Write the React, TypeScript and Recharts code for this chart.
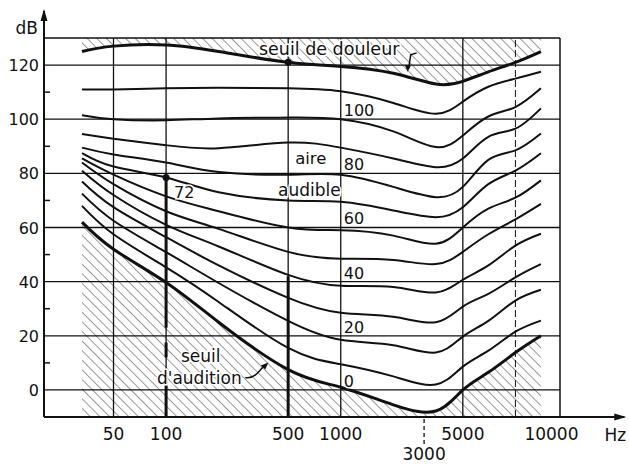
import { Area, ComposedChart, Line, ReferenceDot, ReferenceLine, XAxis, YAxis } from "recharts";

// fréquences (Hz)
const FREQ = [33, 50, 100, 200, 500, 1000, 2000, 3500, 5000, 7000, 10000, 14000];

// courbes d'isosonie (dB), une liste par courbe
const PAIN = [125, 127, 127.4, 125, 121, 119.5, 117, 113, 114, 117.5, 121, 125];
const PHON_110 = [111, 111, 111.4, 111.6, 111.4, 110.3, 106, 102, 106.5, 112, 115, 117.5];
const PHON_100 = [101.5, 100, 99.6, 100.3, 100.6, 100, 95.5, 89.7, 94, 101, 104.5, 111.4];
const PHON_90 = [94.5, 92.8, 90.4, 89.3, 91.4, 89.5, 85.5, 82.3, 85.5, 93.5, 96.5, 104];
const PHON_80 = [89.5, 87, 84, 80.5, 79.5, 79.5, 75, 71.2, 75, 85, 88.5, 94.7];
const PHON_70 = [87.5, 82.5, 78.5, 73, 70, 69.5, 66.3, 63.8, 67.5, 76, 81, 87.4];
const PHON_60 = [85.5, 79.5, 71.5, 66, 60, 59, 57, 54, 60, 67, 71, 77.4];
const PHON_50 = [84, 76, 66, 59.5, 51, 48.5, 48, 46.5, 51, 57.5, 63, 68.7];
const PHON_40 = [81, 72, 61, 53, 42.5, 38.5, 38, 36, 40.7, 46, 53.3, 57.7];
const PHON_30 = [77, 67.5, 56.4, 46, 34, 28.5, 27, 25, 30.8, 35.5, 41.6, 46.5];
const PHON_20 = [72.5, 62.5, 50.9, 39.5, 25.5, 18.5, 16.5, 13.8, 19.7, 25.5, 33, 37];
const PHON_10 = [68, 57.5, 45.3, 32.5, 15.5, 9.5, 5, 2, 8.6, 14.5, 21.5, 25.6];
const THRESHOLD = [62, 52, 39.7, 25, 7.5, 1, -5.5, -7.8, 0, 6.5, 13.8, 20];

const X_TICKS = [50, 100, 500, 1000, 3000, 5000, 10000];
const X_GRID = [50, 100, 500, 1000, 5000];
const Y_TICKS = [0, 10, 20, 30, 40, 50, 60, 70, 80, 90, 100, 110, 120];
const Y_GRID = [0, 20, 40, 60, 80, 100, 120];
const PHON_LABELS = [0, 20, 40, 60, 80, 100];

const X_MIN = 20;
const X_MAX = 18000;
const Y_MIN = -10;
const Y_MAX = 130;

const CURVES = [
  { key: "pain", values: PAIN, width: 3 },
  { key: "p110", values: PHON_110, width: 2 },
  { key: "p100", values: PHON_100, width: 2 },
  { key: "p90", values: PHON_90, width: 2 },
  { key: "p80", values: PHON_80, width: 2 },
  { key: "p70", values: PHON_70, width: 2 },
  { key: "p60", values: PHON_60, width: 2 },
  { key: "p50", values: PHON_50, width: 2 },
  { key: "p40", values: PHON_40, width: 2 },
  { key: "p30", values: PHON_30, width: 2 },
  { key: "p20", values: PHON_20, width: 2 },
  { key: "p10", values: PHON_10, width: 2 },
  { key: "p0", values: THRESHOLD, width: 3 },
];

const data = FREQ.map((f, i) => {
  const row: Record<string, number> = { f };
  CURVES.forEach((c) => (row[c.key] = c.values[i]));
  return row;
});

const INK = "#111";
const FONT = "DejaVu Sans, sans-serif";
const CURVE = "natural";

const textStyle = {
  fontFamily: FONT,
  fill: INK,
  stroke: "#fff",
  strokeWidth: 3,
  paintOrder: "stroke" as const,
};

function XTick({ x, y, payload }: any) {
  const v = payload.value;
  if (v === 3000) {
    return (
      <g>
        <line x1={x} y1={y + 2} x2={x} y2={y + 27} stroke={INK} strokeWidth={1.3} strokeDasharray="4 3" />
        <text x={x} y={y + 43} textAnchor="middle" fontSize={17} fontFamily={FONT} fill={INK}>
          3000
        </text>
      </g>
    );
  }
  const isLast = v === 10000;
  return (
    <text
      x={isLast ? x + 9 : x}
      y={y + 23}
      textAnchor={isLast ? "start" : "middle"}
      fontSize={17}
      fontFamily={FONT}
      fill={INK}
    >
      {v}
    </text>
  );
}

function YTick({ x, y, payload }: any) {
  const v = payload.value;
  if (v % 20 !== 0) {
    return <line x1={x} y1={y} x2={x + 6} y2={y} stroke={INK} strokeWidth={1.5} />;
  }
  return (
    <text x={x - 5} y={y + 6} textAnchor="end" fontSize={16} fontFamily={FONT} fill={INK}>
      {v}
    </text>
  );
}

const label = (text: string, size: number, anchor: "start" | "middle" | "end", dx = 0) =>
  (p: any) => (
    <text x={p.cx + dx} y={p.cy} dy="0.35em" textAnchor={anchor} fontSize={size} style={textStyle}>
      {text}
    </text>
  );

export default function App() {
  return (
    <div style={{ position: "absolute", left: 0, top: 0, width: 629, height: 466, background: "#fff" }}>
      <ComposedChart
        width={629}
        height={466}
        data={data}
        margin={{ top: 38, right: 69, left: 0, bottom: 0 }}
      >
        <defs>
          <pattern id="hatch" width="6.8" height="6.8" patternUnits="userSpaceOnUse" patternTransform="rotate(-45)">
            <line x1="0" y1="0" x2="0" y2="6.8" stroke="#333" strokeWidth="1" />
          </pattern>
        </defs>

        <XAxis
          dataKey="f"
          type="number"
          scale="log"
          domain={[X_MIN, X_MAX]}
          allowDataOverflow
          ticks={X_TICKS}
          interval={0}
          tick={<XTick />}
          tickLine={false}
          axisLine={false}
          tickSize={0}
          tickMargin={0}
          height={49}
        />
        <YAxis
          type="number"
          domain={[Y_MIN, Y_MAX]}
          allowDataOverflow
          ticks={Y_TICKS}
          interval={0}
          tick={<YTick />}
          tickLine={false}
          axisLine={false}
          tickSize={0}
          tickMargin={0}
          width={44}
        />

        <Area
          type={CURVE}
          dataKey={(d: any) => [d.pain, Y_MAX]}
          stroke="none"
          fill="url(#hatch)"
          fillOpacity={1}
          isAnimationActive={false}
        />
        <Area
          type={CURVE}
          dataKey={(d: any) => [Y_MIN, d.p0]}
          stroke="none"
          fill="url(#hatch)"
          fillOpacity={1}
          isAnimationActive={false}
        />

        {Y_GRID.map((v) => (
          <ReferenceLine key={"h" + v} y={v} stroke={INK} strokeWidth={1.3} />
        ))}
        <ReferenceLine y={Y_MAX} stroke={INK} strokeWidth={1.5} />
        {X_GRID.map((v) => (
          <ReferenceLine key={"v" + v} x={v} stroke={INK} strokeWidth={1.3} />
        ))}
        <ReferenceLine x={10000} stroke={INK} strokeWidth={1} strokeDasharray="7 3" />
        <ReferenceLine x={X_MAX} stroke={INK} strokeWidth={1.5} />

        {/* traits épais de lecture à 100 Hz et 500 Hz */}
        <ReferenceLine segment={[{ x: 100, y: 78.5 }, { x: 100, y: 23 }]} stroke={INK} strokeWidth={3} />
        <ReferenceLine segment={[{ x: 100, y: 17.5 }, { x: 100, y: 12 }]} stroke={INK} strokeWidth={3} />
        <ReferenceLine segment={[{ x: 100, y: 7 }, { x: 100, y: Y_MIN }]} stroke={INK} strokeWidth={3} />
        <ReferenceLine segment={[{ x: 500, y: 42 }, { x: 500, y: Y_MIN }]} stroke={INK} strokeWidth={3} />

        {CURVES.map((c) => (
          <Line
            key={c.key}
            type={CURVE}
            dataKey={c.key}
            stroke={INK}
            strokeWidth={c.width}
            dot={false}
            activeDot={false}
            isAnimationActive={false}
          />
        ))}

        {/* axes avec flèches */}
        <ReferenceLine
          segment={[{ x: X_MIN, y: Y_MIN }, { x: X_MIN, y: 140 }]}
          ifOverflow="visible"
          shape={(p: any) => (
            <g>
              <line x1={p.x1} y1={p.y1} x2={p.x2} y2={p.y2} stroke={INK} strokeWidth={2} />
              <path d={`M${p.x2},${p.y2 - 2} l-3.5,12 l7,0 z`} fill={INK} />
              <text x={p.x2 - 6} y={p.y2 + 23} textAnchor="end" fontSize={17} fontFamily={FONT} fill={INK}>
                dB
              </text>
            </g>
          )}
        />
        <ReferenceLine
          segment={[{ x: X_MIN, y: Y_MIN }, { x: 42000, y: Y_MIN }]}
          ifOverflow="visible"
          shape={(p: any) => (
            <g>
              <line x1={p.x1} y1={p.y1} x2={p.x2} y2={p.y2} stroke={INK} strokeWidth={2} />
              <path d={`M${p.x2 + 2},${p.y2} l-12,-3.5 l0,7 z`} fill={INK} />
              <text x={p.x2 + 2} y={p.y2 + 24} textAnchor="end" fontSize={17} fontFamily={FONT} fill={INK}>
                Hz
              </text>
            </g>
          )}
        />

        {/* points marqués */}
        <ReferenceDot x={100} y={78.5} r={3.5} fill={INK} stroke="none" />
        <ReferenceDot x={500} y={121} r={3.5} fill={INK} stroke="none" />

        {/* étiquettes */}
        {PHON_LABELS.map((v) => (
          <ReferenceDot key={"l" + v} x={1000} y={v + 3.2} r={0} shape={label(String(v), 16, "start", 3)} />
        ))}
        <ReferenceDot x={340} y={126} r={0} shape={label("seuil de douleur", 17.5, "start")} />
        <ReferenceDot x={674} y={85.7} r={0} shape={label("aire", 16.5, "middle")} />
        <ReferenceDot x={661} y={73.7} r={0} shape={label("audible", 17, "middle")} />
        <ReferenceDot x={111} y={72.8} r={0} shape={label("72", 16, "start")} />
        <ReferenceDot x={158} y={12.6} r={0} shape={label("seuil", 17, "middle")} />
        <ReferenceDot x={155} y={4.4} r={0} shape={label("d'audition", 17, "middle")} />

        {/* flèches des seuils */}
        <ReferenceDot
          x={2450}
          y={117.5}
          r={0}
          shape={(p: any) => (
            <g>
              <path
                d={`M${p.cx + 8},${p.cy - 19} L${p.cx + 2},${p.cy - 17} L${p.cx},${p.cy - 4}`}
                fill="none"
                stroke={INK}
                strokeWidth={1.5}
              />
              <path d={`M${p.cx - 1},${p.cy} l-3,-7 l6,0.8 z`} fill={INK} />
            </g>
          )}
        />
        <ReferenceDot
          x={390}
          y={10.5}
          r={0}
          shape={(p: any) => (
            <g>
              <path
                d={`M${p.cx - 24},${p.cy + 16} C${p.cx - 16},${p.cy + 18} ${p.cx - 10},${p.cy + 10} ${p.cx - 6},${p.cy + 5}`}
                fill="none"
                stroke={INK}
                strokeWidth={1.5}
              />
              <path d={`M${p.cx - 1},${p.cy + 1} l-3,7 l-4.5,-4 z`} fill={INK} />
            </g>
          )}
        />
      </ComposedChart>
    </div>
  );
}
